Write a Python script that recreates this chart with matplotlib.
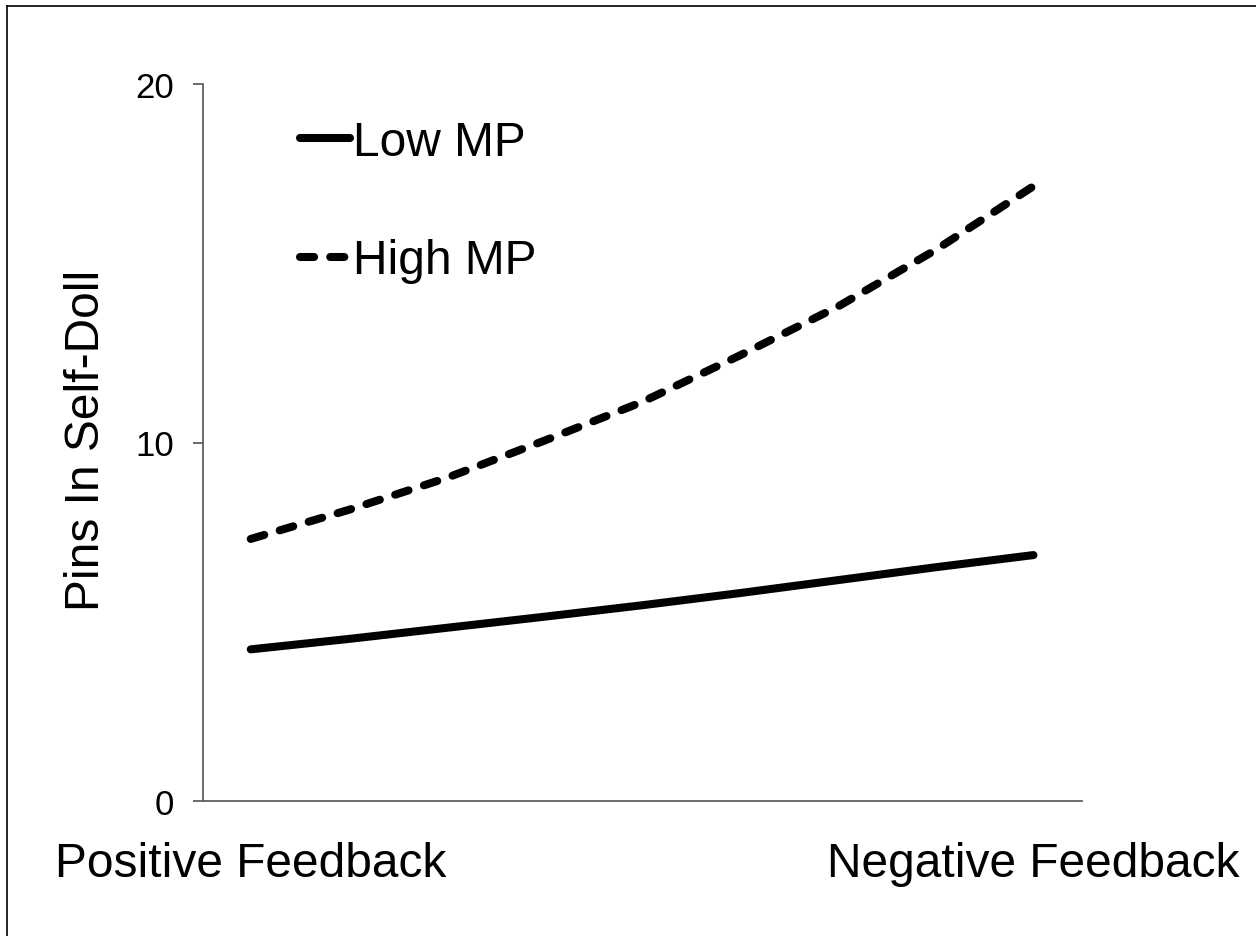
import matplotlib
matplotlib.use("Agg")
import matplotlib.pyplot as plt
from matplotlib.lines import Line2D

plt.rcParams['font.family'] = ['Liberation Sans', 'DejaVu Sans']

# Data
x_pos = [0, 0.125, 0.25, 0.375, 0.5, 0.625, 0.75, 0.875, 1.0]
low_mp = [4.23, 4.52, 4.83, 5.14, 5.46, 5.80, 6.16, 6.52, 6.86]
high_mp = [7.31, 8.12, 9.01, 10.05, 11.13, 12.43, 13.79, 15.37, 17.15]
x_ticks = [0, 1]
x_labels = ['Positive Feedback', 'Negative Feedback']
y_ticks = [0, 10, 20]
y_label = 'Pins In Self-Doll'
series_names = ['Low MP', 'High MP']

W, H = 1256, 937
fig = plt.figure(figsize=(W / 100, H / 100), dpi=100)
fig.patch.set_facecolor('white')

ax = fig.add_axes([203 / W, 1 - 802 / H, (1082 - 203) / W, (802 - 85) / H])

ax.plot(x_pos, low_mp, color='black', lw=5.8, solid_capstyle='round',
        solid_joinstyle='round', label=series_names[0])
ax.plot(x_pos, high_mp, color='black', lw=5.8, linestyle=(0, (1.75, 2.0)),
        dash_capstyle='round', label=series_names[1])

ax.set_xlim(-0.061, 1.062)
ax.set_ylim(0, 20)
ax.set_yticks(y_ticks)
ax.set_yticklabels([str(v) for v in y_ticks], fontsize=25)
ax.set_xticks(x_ticks)
ax.set_xticklabels(x_labels, fontsize=34.5)
ax.tick_params(axis='x', length=0, pad=28.5)
ax.tick_params(axis='y', length=7, width=1.3, color='#606060', pad=14,
               direction='out')

for s in ['top', 'right']:
    ax.spines[s].set_visible(False)
for s in ['left', 'bottom']:
    ax.spines[s].set_color('#606060')
    ax.spines[s].set_linewidth(1.3)

fig.text(87 / W, 1 - 440 / H, y_label, rotation=90, ha='center', va='center',
         fontsize=34.5)

leg = ax.legend(loc='upper left', bbox_to_anchor=(300 / W, 1 - 121 / H),
                bbox_transform=fig.transFigure, frameon=False, fontsize=34.5,
                handlelength=1.05, handletextpad=0.05, labelspacing=1.53,
                borderpad=0, borderaxespad=0)

# Outer frame (top and left edges visible)
fig.add_artist(Line2D([7 / W, 1.0], [1 - 7 / H, 1 - 7 / H], color='black',
                      lw=1.2, transform=fig.transFigure))
fig.add_artist(Line2D([7 / W, 7 / W], [1 - 7 / H, 0.0], color='black',
                      lw=1.2, transform=fig.transFigure))

fig.savefig('out.png', dpi=100, facecolor='white')
